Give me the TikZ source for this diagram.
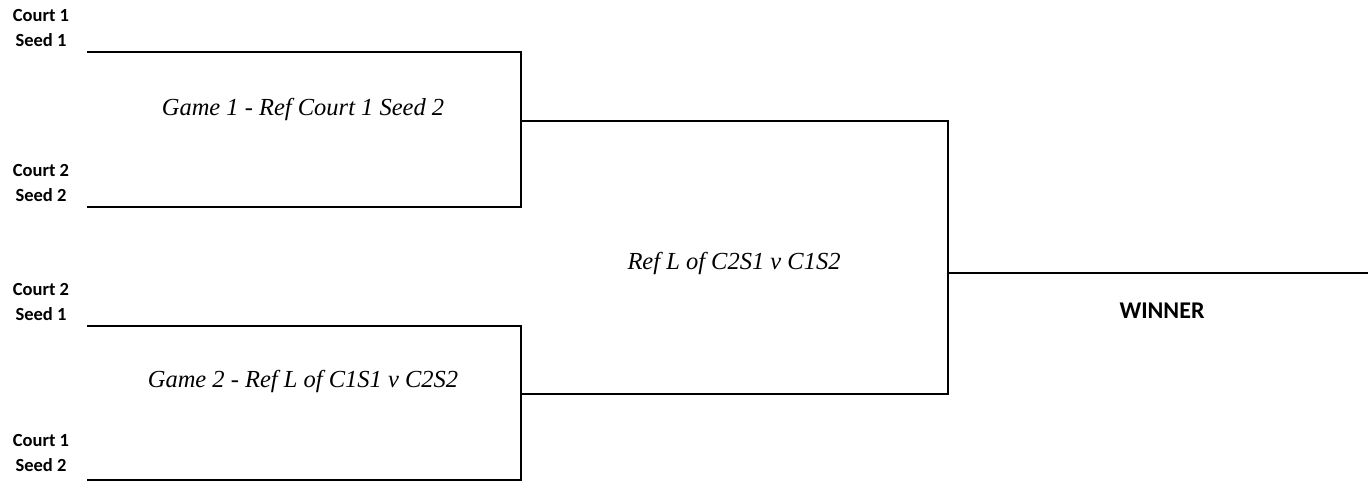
\documentclass[tikz,border=0pt]{standalone}
\usepackage{fontspec}
\setmainfont{Liberation Serif}
\newfontfamily\seedfont{Carlito}

\begin{document}
\begin{tikzpicture}[x = 1pt, y = -1pt, line width = 1.3pt,
	seed/.style = {font = \seedfont\bfseries\fontsize{18.5}{25}\selectfont, align = center},
	game/.style = {font = \itshape\fontsize{24.5}{28}\selectfont},
	winner/.style = {font = \seedfont\bfseries\fontsize{24}{28}\selectfont}]
	\useasboundingbox (0,0) rectangle (1368,481);

	% seeds
	\coordinate (S1) at (87,52);
	\coordinate (S2) at (87,207);
	\coordinate (S3) at (87,326);
	\coordinate (S4) at (87,480);
	\coordinate (G1) at (521,121);
	\coordinate (G2) at (521,394);
	\coordinate (F) at (948,273);
	\coordinate (W) at (1368,273);

	\node[seed](L1) at (41,28){Court 1\\Seed 1};
	\node[seed](L2) at (41,183){Court 2\\Seed 2};
	\node[seed](L3) at (41,302){Court 2\\Seed 1};
	\node[seed](L4) at (41,453){Court 1\\Seed 2};

	\node[game](T1) at (303,109){Game 1 - Ref Court 1 Seed 2};
	\node[game](T2) at (303,381){Game 2 - Ref L of C1S1 v C2S2};
	\node[game](T3) at (734,263){Ref L of C2S1 v C1S2};
	\node[winner](T4) at (1162,311){WINNER};

	\draw
	(S1) -| (G1) |- (S2)
	(S3) -| (G2) |- (S4)
	(G1) -| (F) |- (G2)
	(F) -- (W);
\end{tikzpicture}
\end{document}
